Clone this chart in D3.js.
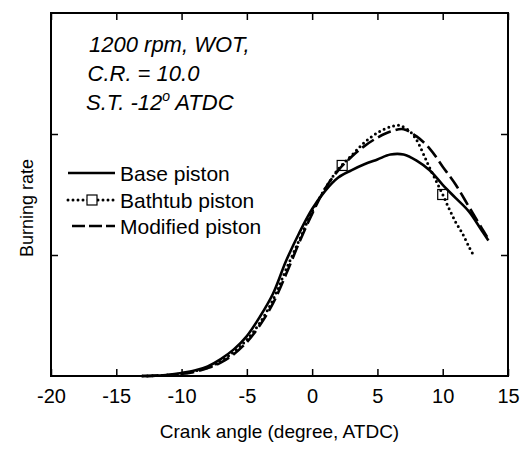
<!DOCTYPE html>
<html>
<head>
<meta charset="utf-8">
<script src="https://cdn.jsdelivr.net/npm/d3@7"></script>
<style>
  body { margin: 0; background: #fff; }
  #chart text { font-family: "Liberation Sans", Arial, sans-serif; fill: #000; }
  .axis path, .axis line { stroke: #000; }
</style>
</head>
<body>
<div id="chart"></div>
<script>
// crank angle (deg ATDC) and burning rate (arbitrary units)
var baseX  = [-13, -12, -11, -10, -9, -8, -7, -6, -5, -4, -3, -2, -1, 0, 1, 2, 3, 4, 5, 6, 7, 8, 9, 10, 11, 12, 13, 13.5];
var baseY  = [0, 0.003, 0.01, 0.025, 0.045, 0.08, 0.14, 0.22, 0.33, 0.49, 0.68, 0.95, 1.18, 1.38, 1.53, 1.64, 1.70, 1.75, 1.79, 1.83, 1.83, 1.78, 1.70, 1.58, 1.47, 1.36, 1.20, 1.12];

var bathX  = [-13, -12, -11, -10, -9, -8, -7, -6, -5, -4, -3, -2, -1, 0, 1, 2, 3, 4, 5, 6, 6.7, 7.5, 8, 8.5, 9, 9.5, 10, 10.5, 11, 11.5, 12, 12.3];
var bathY  = [0, 0.003, 0.008, 0.02, 0.04, 0.07, 0.12, 0.2, 0.3, 0.44, 0.63, 0.88, 1.12, 1.36, 1.55, 1.71, 1.82, 1.93, 2.01, 2.06, 2.07, 2.02, 1.95, 1.84, 1.72, 1.61, 1.50, 1.38, 1.27, 1.18, 1.07, 1.01];
var bathMarkX = [2.3, 10];
var bathMarkY = [1.74, 1.50];

var modX   = [-13, -12, -11, -10, -9, -8, -7, -6, -5, -4, -3, -2, -1, 0, 1, 2, 3, 4, 5, 6, 7, 8, 9, 10, 11, 12, 13, 13.4];
var modY   = [0, 0.002, 0.007, 0.018, 0.035, 0.065, 0.11, 0.18, 0.28, 0.42, 0.6, 0.84, 1.1, 1.34, 1.55, 1.70, 1.81, 1.90, 1.97, 2.02, 2.04, 1.98, 1.88, 1.73, 1.58, 1.40, 1.22, 1.15];

var xTicks = [-20, -15, -10, -5, 0, 5, 10, 15];
var yTicks = [1, 2];
var legendNames = ["Base piston", "Bathtub piston", "Modified piston"];
var noteLines = ["1200 rpm, WOT,", "C.R. = 10.0", "S.T. -12"];

function draw(){
    var margin = { top: 13, right: 14, bottom: 73, left: 51 };
    var width = 522 - margin.left - margin.right;
    var height = 449 - margin.top - margin.bottom;

    var svg = d3.select("#chart")
        .append("svg")
        .attr("width", 522)
        .attr("height", 449)
      .append("g")
        .attr("transform", "translate(" + margin.left + "," + margin.top + ")");

    var x = d3.scaleLinear().domain([-20, 15]).range([0, width]);
    var y = d3.scaleLinear().domain([0, 3]).range([height, 0]);

    // inward ticks on all four sides, plain hyphen for negatives
    svg.append("g")
        .attr("class", "x axis")
        .attr("transform", "translate(0," + height + ")")
        .call(d3.axisBottom(x).tickValues(xTicks).tickSizeInner(-7).tickSizeOuter(0).tickPadding(13)
            .tickFormat(function(d) { return String(d); }))
        .call(function(g){ g.selectAll("text").style("font-size", "20px"); });
    svg.append("g")
        .attr("class", "axis")
        .call(d3.axisTop(x).tickValues(xTicks).tickSizeInner(-7).tickSizeOuter(0).tickFormat(""));
    svg.append("g")
        .attr("class", "axis")
        .call(d3.axisLeft(y).tickValues(yTicks).tickSizeInner(-7).tickSizeOuter(0).tickFormat(""));
    svg.append("g")
        .attr("class", "axis")
        .attr("transform", "translate(" + width + ",0)")
        .call(d3.axisRight(y).tickValues(yTicks).tickSizeInner(-7).tickSizeOuter(0).tickFormat(""));

    svg.selectAll(".axis line").attr("stroke-width", 1.5);

    svg.append("rect")
        .attr("width", width)
        .attr("height", height)
        .attr("fill", "none")
        .attr("stroke", "#000")
        .attr("stroke-width", 2);

    var line = d3.line()
        .x(function(d) { return x(d[0]); })
        .y(function(d) { return y(d[1]); })
        .curve(d3.curveCatmullRom);

    var styles = [
        { dash: null, width: 2.6, cap: "butt" },
        { dash: "0,5", width: 3, cap: "round" },
        { dash: "14,5", width: 2.6, cap: "butt" }
    ];
    var series = [d3.zip(baseX, baseY), d3.zip(bathX, bathY), d3.zip(modX, modY)];

    series.forEach(function(s, i) {
        svg.append("path")
            .attr("d", line(s))
            .attr("fill", "none")
            .attr("stroke", "#000")
            .attr("stroke-width", styles[i].width)
            .attr("stroke-linecap", styles[i].cap)
            .attr("stroke-dasharray", styles[i].dash);
    });

    svg.selectAll("rect.mark")
        .data(d3.zip(bathMarkX, bathMarkY))
      .enter().append("rect")
        .attr("class", "mark")
        .attr("x", function(d) { return x(d[0]) - 5; })
        .attr("y", function(d) { return y(d[1]) - 5; })
        .attr("width", 10)
        .attr("height", 10)
        .attr("fill", "none")
        .attr("stroke", "#000")
        .attr("stroke-width", 1.2);

    // legend
    var legend = svg.append("g").attr("transform", "translate(17,0)");
    var legendRows = [160, 187, 213];
    legendNames.forEach(function(name, i) {
        var g = legend.append("g").attr("transform", "translate(0," + legendRows[i] + ")");
        g.append("line")
            .attr("x1", i === 2 ? 4 : 0).attr("x2", 47)
            .attr("y1", 0).attr("y2", 0)
            .attr("stroke", "#000")
            .attr("stroke-width", styles[i].width)
            .attr("stroke-linecap", styles[i].cap)
            .attr("stroke-dasharray", i === 2 ? "13,4" : styles[i].dash);
        if (i === 1) {
            g.append("rect")
                .attr("x", 19).attr("y", -5)
                .attr("width", 10).attr("height", 10)
                .attr("fill", "#fff")
                .attr("stroke", "#000")
                .attr("stroke-width", 1.2);
        }
        g.append("text")
            .attr("x", 52)
            .attr("y", 8)
            .style("font-size", "21px")
            .text(name);
    });

    // condition note
    var note = svg.append("g").attr("transform", "translate(38,0)");
    noteLines.forEach(function(t, i) {
        var txt = note.append("text")
            .attr("x", -i * 1.5)
            .attr("y", 39 + i * 29)
            .style("font-size", "22px")
            .style("font-style", "italic")
            .text(t);
        if (i === 2) {
            txt.append("tspan")
                .attr("dy", -9)
                .style("font-size", "14px")
                .text("o");
            txt.append("tspan")
                .attr("dy", 9)
                .text(" ATDC");
        }
    });

    svg.append("text")
        .attr("x", width / 2)
        .attr("y", height + 62)
        .style("text-anchor", "middle")
        .style("font-size", "19px")
        .text("Crank angle (degree, ATDC)");

    svg.append("text")
        .attr("transform", "translate(" + (-18) + "," + (195) + ") rotate(-90)")
        .style("text-anchor", "middle")
        .style("font-size", "18px")
        .text("Burning rate");
}
draw();
</script>
</body>
</html>
